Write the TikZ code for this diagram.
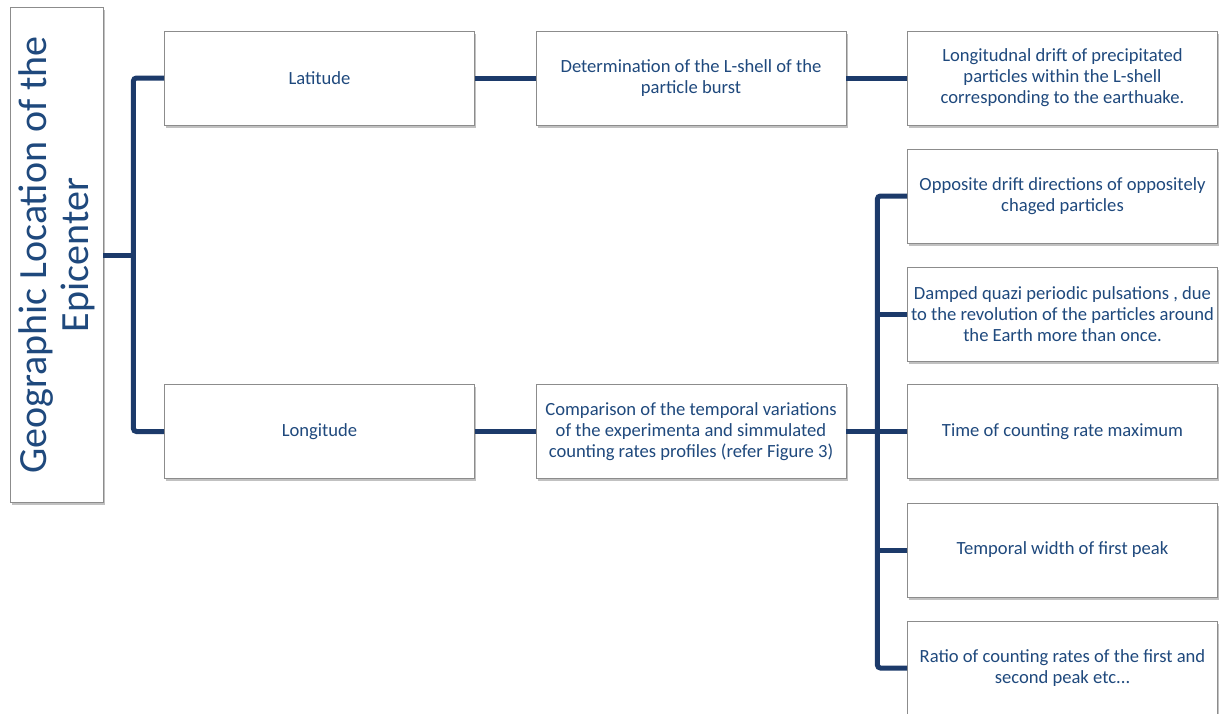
\documentclass[tikz,border=0pt]{standalone}
\usepackage{fontspec}
\setmainfont{Carlito}
\usepackage{tikz}
\usetikzlibrary{shadows}
\definecolor{linkblue}{RGB}{28,58,106}
\definecolor{txtblue}{RGB}{31,73,125}
\tikzset{
  leaf/.style={draw=black!45, line width=0.8pt, fill=white, text=txtblue,
    minimum width=310pt, minimum height=94pt, align=center, inner sep=1pt,
    font=\fontsize{18.6}{21}\selectfont,
    drop shadow={shadow xshift=1.5pt, shadow yshift=-2.5pt, opacity=0.35, fill=black!70}},
  link/.style={draw=linkblue, line width=5pt, rounded corners=3pt}
}

\begin{document}
\begin{tikzpicture}[x=1pt, y=-1pt]

  \newcommand\CA{319.5}
  \newcommand\CB{691}
  \newcommand\CC{1062.5}

  \useasboundingbox (0,0) rectangle (1219,713);

  %% root
  \node[leaf, minimum width=495pt, minimum height=93pt, rotate=90,
        font=\fontsize{40}{42}\selectfont]
    (geo) at (56.5,255) {Geographic Location of the\\Epicenter};

  %% first level
  \node[leaf] (lat) at (\CA,78) {Latitude};
  \node[leaf] (lon) at (\CA,431.5) {Longitude};

  %% second level
  \node[leaf] (lsh) at (\CB,78) {Determination of the L-shell of the\\particle burst};
  \node[leaf] (cmp) at (\CB,431.5) {Comparison of the temporal variations\\of the experimenta and simmulated\\counting rates profiles (refer Figure 3)};

  %% third level
  \node[leaf] (drf) at (\CC,78) {Longitudnal drift of precipitated\\particles within the L-shell\\corresponding to the earthuake.};
  \node[leaf] (opp) at (\CC,196) {Opposite drift directions of oppositely\\chaged particles};
  \node[leaf] (dmp) at (\CC,314) {Damped quazi periodic pulsations , due\\to the revolution of the particles around\\the Earth more than once.};
  \node[leaf] (tim) at (\CC,431.5) {Time of counting rate maximum};
  \node[leaf] (wid) at (\CC,550) {Temporal width of first peak};
  \node[leaf] (rat) at (\CC,668) {Ratio of counting rates of the first and\\second peak etc...};

  \coordinate (rj) at ([xshift=30pt]geo.south);
  \coordinate (cj) at ([xshift=31pt]cmp.east);

  %% geo -> lat, lon
  \draw[link] (geo.south) -- (rj);
  \draw[link] (lat.west) -| (rj) |- (lon.west);

  %% lat -> lsh -> drf
  \draw[link] (lat.east) -- (lsh.west);
  \draw[link] (lsh.east) -- (drf.west);

  %% lon -> cmp -> column
  \draw[link] (lon.east) -- (cmp.west);
  \draw[link] (cmp.east) -- (tim.west);
  \draw[link] (opp.west) -| (cj) |- (rat.west);
  \foreach \b in {dmp,wid}
    \draw[link] (cj |- \b.west) -- (\b.west);

\end{tikzpicture}
\end{document}
